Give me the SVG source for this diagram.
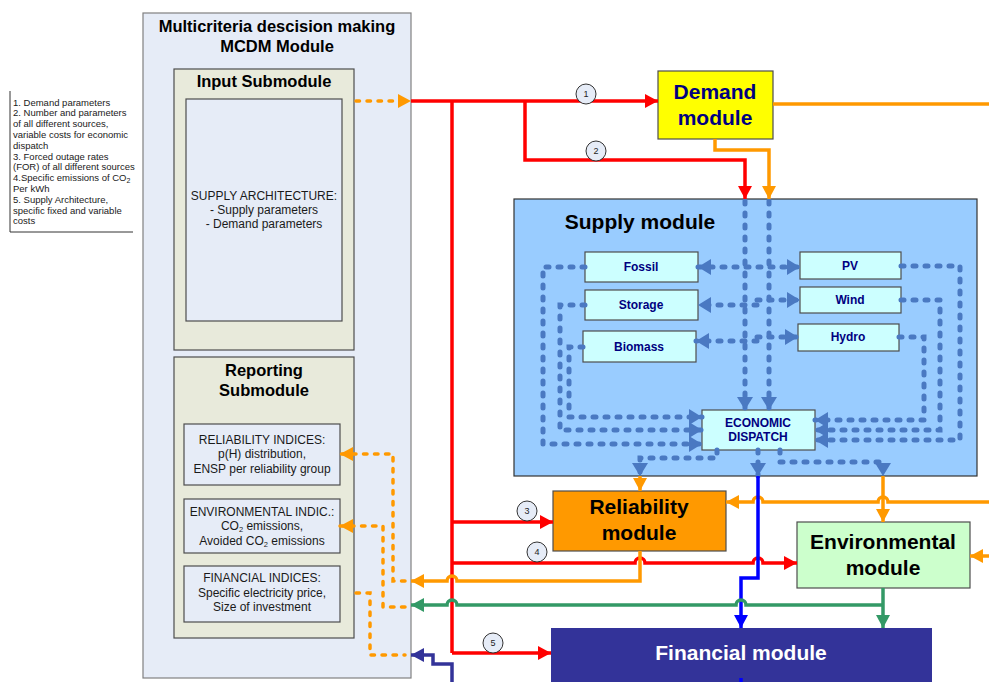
<svg xmlns="http://www.w3.org/2000/svg" width="989" height="682" viewBox="0 0 989 682">
<defs>
<style>
text{font-family:"Liberation Sans",Arial,sans-serif;}
.t15{font-size:16.5px;font-weight:bold;fill:#000;text-anchor:middle;}
.mod{font-size:21px;font-weight:bold;text-anchor:middle;}
.src{font-size:12px;font-weight:bold;fill:#000080;text-anchor:middle;}
.rep{font-size:12px;fill:#1a1a1a;text-anchor:middle;}
.note{font-size:9.5px;fill:#1a1a1a;}
.num{font-size:9px;fill:#222;text-anchor:middle;}
.box{stroke:#4d4d4d;stroke-width:1.2;}
.red{fill:none;stroke:#ff0000;stroke-width:3.5;}
.org{fill:none;stroke:#ff9900;stroke-width:3.5;}
.grn{fill:none;stroke:#339966;stroke-width:3.5;}
.blu{fill:none;stroke:#0000ff;stroke-width:3.5;}
.nav{fill:none;stroke:#333399;stroke-width:3.5;}
.odot{fill:none;stroke:#ff9900;stroke-width:3.5;stroke-dasharray:3.5 7.5;stroke-linecap:round;}
.bdot{fill:none;stroke:#4a79c2;stroke-width:5;stroke-dasharray:3 9;stroke-linecap:round;}
</style>
<marker id="aR" markerUnits="userSpaceOnUse" markerWidth="14" markerHeight="14" refX="13" refY="7" orient="auto"><path d="M0,0 L13,7 L0,14 z" fill="#ff0000"/></marker>
<marker id="aO" markerUnits="userSpaceOnUse" markerWidth="14" markerHeight="14" refX="13" refY="7" orient="auto"><path d="M0,0 L13,7 L0,14 z" fill="#ff9900"/></marker>
<marker id="aG" markerUnits="userSpaceOnUse" markerWidth="14" markerHeight="14" refX="13" refY="7" orient="auto"><path d="M0,0 L13,7 L0,14 z" fill="#339966"/></marker>
<marker id="aB" markerUnits="userSpaceOnUse" markerWidth="14" markerHeight="14" refX="13" refY="7" orient="auto"><path d="M0,0 L13,7 L0,14 z" fill="#0000ff"/></marker>
<marker id="aN" markerUnits="userSpaceOnUse" markerWidth="14" markerHeight="14" refX="13" refY="7" orient="auto"><path d="M0,0 L13,7 L0,14 z" fill="#333399"/></marker>
<marker id="aD" markerUnits="userSpaceOnUse" markerWidth="14" markerHeight="16" refX="13" refY="8" orient="auto-start-reverse"><path d="M0,0 L13,8 L0,16 z" fill="#4a79c2"/></marker>
</defs>
<rect width="989" height="682" fill="#ffffff"/>

<!-- note box -->
<g id="note">
<path d="M10,91 V232 H133" fill="none" stroke="#333" stroke-width="1"/>
<text class="note" x="13" y="105.5">1. Demand parameters</text>
<text class="note" x="13" y="116.3">2. Number and parameters</text>
<text class="note" x="13" y="127.1">of all different sources,</text>
<text class="note" x="13" y="137.9">variable costs for economic</text>
<text class="note" x="13" y="148.7">dispatch</text>
<text class="note" x="13" y="159.5">3. Forced outage rates</text>
<text class="note" x="13" y="170.3">(FOR) of all different sources</text>
<text class="note" x="13" y="181.1">4.Specific emissions of CO<tspan font-size="7" dy="2">2</tspan></text>
<text class="note" x="13" y="191.9">Per kWh</text>
<text class="note" x="13" y="202.7">5. Supply Architecture,</text>
<text class="note" x="13" y="213.5">specific fixed and variable</text>
<text class="note" x="13" y="224.3">costs</text>
</g>

<!-- MCDM -->
<g id="mcdm">
<rect x="143" y="13" width="268" height="665" fill="#e6ecf7" stroke="#808080" stroke-width="1.2"/>
<text class="t15" x="277" y="32">Multicriteria descision making</text>
<text class="t15" x="277" y="52">MCDM Module</text>
</g>
<g id="input">
<rect x="174" y="69" width="180" height="281" fill="#e8eadb" class="box"/>
<text class="t15" x="264" y="87">Input Submodule</text>
<rect x="186" y="99" width="156" height="222" fill="#e6ecf7" class="box"/>
<text class="rep" x="264" y="200">SUPPLY ARCHITECTURE:</text>
<text class="rep" x="264" y="214">- Supply parameters</text>
<text class="rep" x="264" y="228">- Demand parameters</text>
</g>
<g id="reporting">
<rect x="174" y="357" width="180" height="281" fill="#e8eadb" class="box"/>
<text class="t15" x="264" y="376">Reporting</text>
<text class="t15" x="264" y="396">Submodule</text>
</g>
<g id="rel-ind">
<rect x="184" y="424" width="156" height="61" fill="#e6ecf7" class="box"/>
<text class="rep" x="262" y="444">RELIABILITY INDICES:</text>
<text class="rep" x="262" y="458">p(H) distribution,</text>
<text class="rep" x="262" y="473">ENSP per reliability group</text>
</g>
<g id="env-ind">
<rect x="184" y="499" width="156" height="54" fill="#e6ecf7" class="box"/>
<text class="rep" x="262" y="516">ENVIRONMENTAL INDIC.:</text>
<text class="rep" x="262" y="530">CO<tspan font-size="7.5" dy="2">2</tspan><tspan dy="-2"> emissions,</tspan></text>
<text class="rep" x="262" y="545">Avoided CO<tspan font-size="7.5" dy="2">2</tspan><tspan dy="-2"> emissions</tspan></text>
</g>
<g id="fin-ind">
<rect x="184" y="566" width="156" height="56" fill="#e6ecf7" class="box"/>
<text class="rep" x="262" y="582">FINANCIAL INDICES:</text>
<text class="rep" x="262" y="597">Specific electricity price,</text>
<text class="rep" x="262" y="611">Size of investment</text>
</g>

<!-- Demand -->
<g id="demand">
<rect x="658" y="71" width="115" height="68" fill="#ffff00" class="box"/>
<text class="mod" fill="#000080" x="715" y="99">Demand</text>
<text class="mod" fill="#000080" x="715" y="125">module</text>
</g>

<!-- Supply -->
<g id="supply">
<rect x="514" y="199" width="463" height="277" fill="#99ccff" stroke="#333" stroke-width="1.2"/>
<text class="mod" fill="#000" x="640" y="229">Supply module</text>
</g>
<g id="fossil"><rect x="585" y="252" width="113" height="30" fill="#ccffff" class="box"/><text class="src" x="641" y="271">Fossil</text></g>
<g id="storage"><rect x="585" y="290" width="113" height="30" fill="#ccffff" class="box"/><text class="src" x="641" y="309">Storage</text></g>
<g id="biomass"><rect x="583" y="331" width="113" height="31" fill="#ccffff" class="box"/><text class="src" x="639" y="351">Biomass</text></g>
<g id="pv"><rect x="800" y="252" width="101" height="27" fill="#ccffff" class="box"/><text class="src" x="850" y="270">PV</text></g>
<g id="wind"><rect x="800" y="287" width="101" height="26" fill="#ccffff" class="box"/><text class="src" x="850" y="304">Wind</text></g>
<g id="hydro"><rect x="798" y="324" width="101" height="27" fill="#ccffff" class="box"/><text class="src" x="848" y="341">Hydro</text></g>
<g id="dispatch"><rect x="702" y="410" width="113" height="40" fill="#ccffff" class="box"/>
<text class="src" font-size="11" x="758" y="427">ECONOMIC</text>
<text class="src" font-size="11" x="758" y="441">DISPATCH</text></g>

<!-- Reliability -->
<g id="reliability">
<rect x="553" y="491" width="173" height="60" fill="#ff9900" class="box"/>
<text class="mod" fill="#000" x="639" y="514">Reliability</text>
<text class="mod" fill="#000" x="639" y="540">module</text>
</g>
<g id="environmental">
<rect x="797" y="522" width="173" height="66" fill="#ccffcc" class="box"/>
<text class="mod" fill="#000" x="883" y="549">Environmental</text>
<text class="mod" fill="#000" x="883" y="575">module</text>
</g>
<g id="financial">
<rect x="551" y="628" width="381" height="56" fill="#333399"/>
<text class="mod" fill="#ffffff" x="741" y="660">Financial module</text>
</g>

<!-- connectors -->
<g id="connectors">
<!-- supply internal dotted -->
<path class="bdot" d="M745,201 V410" marker-end="url(#aD)"/>
<path class="bdot" d="M769,201 V410" marker-end="url(#aD)"/>
<path class="bdot" d="M698,267 H800" marker-start="url(#aD)" marker-end="url(#aD)"/>
<path class="bdot" d="M757,305 H698" marker-end="url(#aD)"/>
<path class="bdot" d="M757,300 H800" marker-end="url(#aD)"/>
<path class="bdot" d="M757,341 H696" marker-end="url(#aD)"/>
<path class="bdot" d="M757,337 H798" marker-end="url(#aD)"/>
<path class="bdot" d="M585,267 H543 V444 H702" marker-end="url(#aD)"/>
<path class="bdot" d="M585,305 H560 V430 H702" marker-end="url(#aD)"/>
<path class="bdot" d="M583,347 H569 V417 H702" marker-end="url(#aD)"/>
<path class="bdot" d="M901,266 H960 V440 H815" marker-end="url(#aD)"/>
<path class="bdot" d="M901,300 H940 V430 H815" marker-end="url(#aD)"/>
<path class="bdot" d="M899,337 H924 V420 H815" marker-end="url(#aD)"/>
<path class="bdot" d="M717,450 V458 H640 V476" marker-end="url(#aD)"/>
<path class="bdot" d="M758,450 V476" marker-end="url(#aD)"/>
<path class="bdot" d="M780,450 V462 H883 V476" marker-end="url(#aD)"/>

<!-- input dotted -->
<path class="odot" d="M356,101 H411" marker-end="url(#aO)"/>
<!-- red -->
<path class="red" d="M411,101 H658" marker-end="url(#aR)"/>
<path class="red" d="M452,101 V653"/>
<path class="red" d="M525,101 V160 H745 V199" marker-end="url(#aR)"/>
<path class="red" d="M452,522 H553" marker-end="url(#aR)"/>
<path class="red" d="M452,563 H635 a5,5 0 0 1 10,0 H753 a5,5 0 0 1 10,0 H797" marker-end="url(#aR)"/>
<path class="red" d="M452,653 H551" marker-end="url(#aR)"/>
<!-- orange -->
<path class="org" d="M773,104 H989"/>
<path class="org" d="M715,139 V150 H769 V199" marker-end="url(#aO)"/>
<path class="org" d="M640,476 V491" marker-end="url(#aO)"/>
<path class="org" d="M883,476 V522" marker-end="url(#aO)"/>
<path class="org" d="M989,502 H888 a5,5 0 0 0 -10,0 H763 a5,5 0 0 0 -10,0 H726" marker-end="url(#aO)"/>
<path class="org" d="M989,556 H970" marker-end="url(#aO)"/>
<path class="org" d="M640,551 V581 H457 a5,5 0 0 0 -10,0 H411" marker-end="url(#aO)"/>
<!-- blue -->
<path class="blu" d="M758,476 V578 H741 V628" marker-end="url(#aB)"/>
<path class="blu" d="M741,678 V682"/>
<!-- green -->
<path class="grn" d="M883,588 V628" marker-end="url(#aG)"/>
<path class="grn" d="M883,605 H746 a5,5 0 0 0 -10,0 H457 a5,5 0 0 0 -10,0 H411" marker-end="url(#aG)"/>
<!-- navy -->
<path class="nav" d="M452,682 V664 H433 V655 H411" marker-end="url(#aN)"/>
<!-- reporting dotted -->
<path class="odot" d="M405,581 H393 V454 H340" marker-end="url(#aO)"/>
<path class="odot" d="M405,607 H383 V526 H340" marker-end="url(#aO)"/>
<path class="odot" d="M356,593 H370 V655 H405"/>

<!-- number circles -->
<g fill="#e6ecf7" stroke="#333" stroke-width="1">
<circle cx="586" cy="94" r="10"/>
<circle cx="596" cy="151" r="10"/>
<circle cx="527" cy="511" r="10"/>
<circle cx="537" cy="552" r="10"/>
<circle cx="493" cy="643" r="10"/>
</g>
<text class="num" x="586" y="97">1</text>
<text class="num" x="596" y="154">2</text>
<text class="num" x="527" y="514">3</text>
<text class="num" x="537" y="555">4</text>
<text class="num" x="493" y="646">5</text>
</g>
</svg>
